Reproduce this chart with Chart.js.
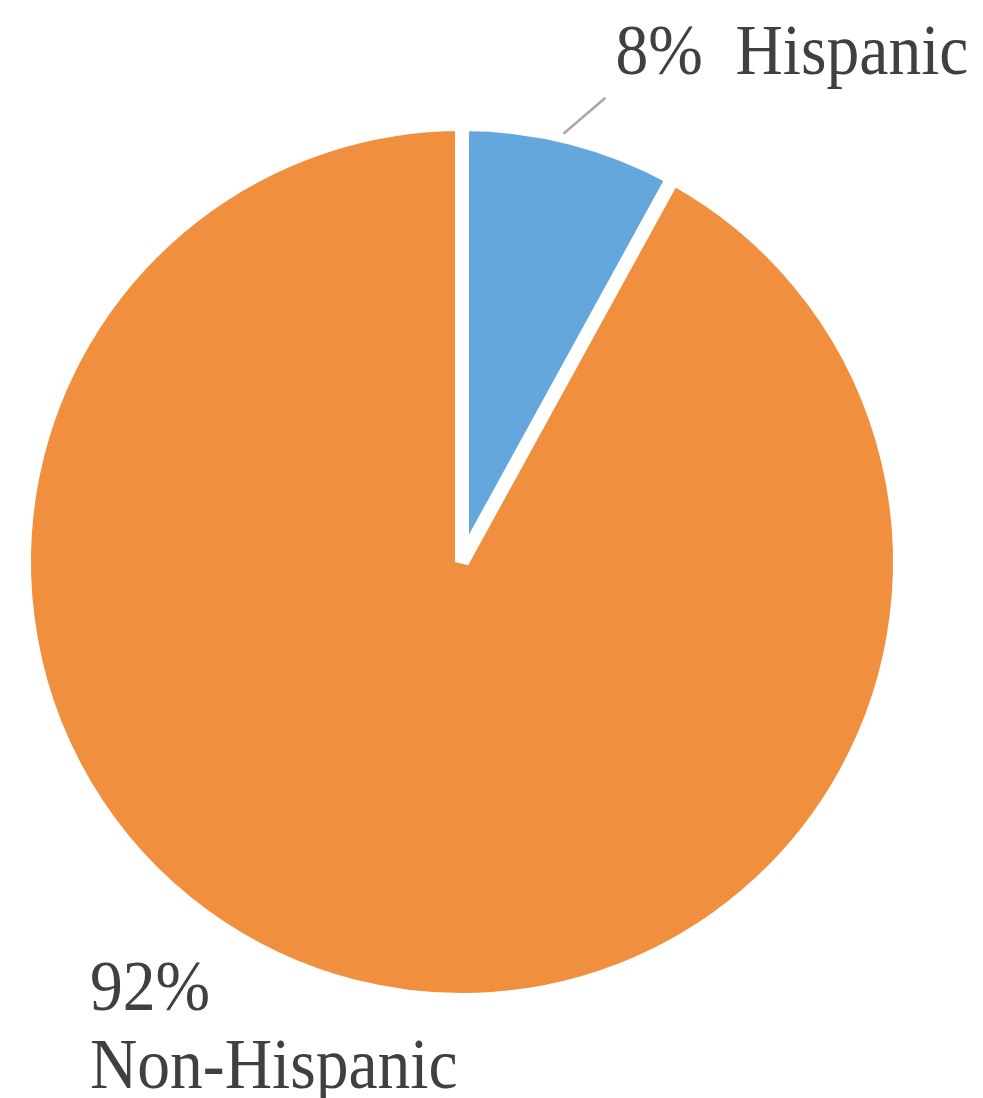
<!DOCTYPE html>
<html>
<head>
<meta charset="utf-8">
<script src="https://cdn.jsdelivr.net/npm/chart.js@4"></script>
<style>
  html, body { margin: 0; padding: 0; background: #ffffff; }
  #pie { display: block; }
</style>
</head>
<body>
<canvas id="pie" width="983" height="1098"></canvas>
<script>
// ethnicity split
const labels = ['Hispanic', 'Non-Hispanic'];
const shares = [8, 92];
const sliceColors = ['#63a7dc', '#f0903e'];

const textColor = '#404040';
const labelFont = '72px "Liberation Serif", "DejaVu Serif", serif';
const squeeze = 0.91; // the serif face runs a bit wide, condense it

function drawText(ctx, str, x, y) {
  ctx.save();
  ctx.translate(x, y);
  ctx.scale(squeeze, 1);
  ctx.fillText(str, 0, 0);
  ctx.restore();
}

// draws "x% Name" labels and the leader line for the small slice
const sliceLabels = {
  id: 'sliceLabels',
  afterDraw(chart) {
    const ctx = chart.ctx;
    const arcs = chart.getDatasetMeta(0).data;
    const total = shares.reduce((a, b) => a + b, 0);
    ctx.save();
    ctx.font = labelFont;
    ctx.fillStyle = textColor;
    ctx.textAlign = 'left';
    ctx.textBaseline = 'alphabetic';

    // small slice: leader line out of the top-right edge, label above
    const a0 = arcs[0];
    const mid0 = (a0.startAngle + a0.endAngle) / 2;
    const r0 = a0.outerRadius;
    const sx = a0.x + Math.cos(mid0) * (r0 - 2);
    const sy = a0.y + Math.sin(mid0) * (r0 - 2);
    ctx.strokeStyle = '#a8a8a8';
    ctx.lineWidth = 2.5;
    ctx.beginPath();
    ctx.moveTo(sx - 7, sy - 6);
    ctx.lineTo(sx + 35, sy - 42);
    ctx.stroke();
    const pct0 = Math.round(shares[0] / total * 100) + '%';
    drawText(ctx, pct0 + '  ' + labels[0], sx + 45, sy - 66);

    // large slice: two-line label under the bottom-left of the pie
    const a1 = arcs[1];
    const pct1 = Math.round(shares[1] / total * 100) + '%';
    const lx = a1.x - 372;
    const ly = a1.y + 448;
    drawText(ctx, pct1, lx, ly);
    drawText(ctx, labels[1], lx, ly + 78);
    ctx.restore();
  }
};

new Chart(document.getElementById('pie'), {
  type: 'pie',
  data: {
    labels: labels,
    datasets: [{
      data: shares,
      backgroundColor: sliceColors,
      borderColor: '#ffffff',
      borderWidth: 14,
      hoverOffset: 0
    }]
  },
  options: {
    responsive: false,
    animation: false,
    layout: { padding: { left: 17, right: 76, top: 117, bottom: 91 } },
    plugins: {
      legend: { display: false },
      tooltip: { enabled: false }
    }
  },
  plugins: [sliceLabels]
});
</script>
</body>
</html>
